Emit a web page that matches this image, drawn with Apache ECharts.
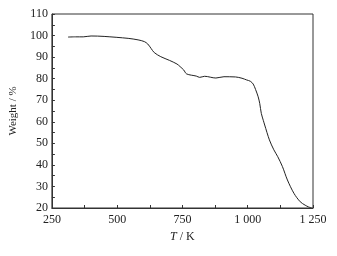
<!DOCTYPE html>
<html><head><meta charset="utf-8">
<script src="https://cdn.jsdelivr.net/npm/echarts@6/dist/echarts.min.js"></script>
<style>html,body{margin:0;padding:0;background:#fff}#c{width:337px;height:256px}</style>
</head><body><div id="c"></div>
<script>
const temperature = [312, 340, 370, 400, 450, 542, 580, 604, 617, 630, 642, 667, 700, 729, 741, 755, 766, 803, 816, 835, 878, 909, 953, 978, 996, 1010, 1021, 1030, 1040, 1046, 1052, 1060, 1065, 1083, 1100, 1115, 1133, 1152, 1177, 1201, 1220, 1233, 1245];
const weight = [99.3, 99.4, 99.4, 99.8, 99.6, 98.7, 98.0, 97.2, 96.1, 94.0, 92.1, 90.2, 88.5, 86.8, 85.6, 84.0, 82.2, 81.2, 80.6, 81.1, 80.3, 80.9, 80.8, 80.2, 79.4, 78.8, 77.5, 75.0, 71.6, 68.5, 63.9, 60.5, 58.5, 51.6, 47.0, 43.8, 39.2, 33.0, 26.8, 22.9, 21.3, 20.5, 20.0];
const xTicks = [250, 500, 750, 1000, 1250];
const yTicks = [20, 30, 40, 50, 60, 70, 80, 90, 100, 110];

const fmtX = v => v >= 1000 ? String(v).replace(/(\d)(\d{3})$/, '$1 $2') : String(v);
const chart = echarts.init(document.getElementById('c'));
const font = 'Liberation Serif';
chart.setOption({
  animation: false,
  backgroundColor: '#fff',
  grid: {left: 45, right: 24, top: 14, bottom: 48, show: true, borderColor: '#333', borderWidth: 1},
  xAxis: {
    type: 'value', min: xTicks[0], max: xTicks[xTicks.length - 1], interval: 250,
    name: '{i|T} / K', nameLocation: 'middle', nameGap: 22,
    nameTextStyle: {fontFamily: font, fontSize: 12, color: '#222', rich: {i: {fontFamily: font, fontStyle: 'italic', fontSize: 12, color: '#222'}}},
    axisLine: {lineStyle: {color: '#333'}},
    axisTick: {inside: true, length: 3, lineStyle: {color: '#333'}},
    minorTick: {show: true, splitNumber: 2, length: 3, lineStyle: {color: '#333'}},
    axisLabel: {fontFamily: font, fontSize: 12, color: '#222', margin: 6, formatter: fmtX},
    splitLine: {show: false}
  },
  yAxis: {
    type: 'value', min: yTicks[0], max: yTicks[yTicks.length - 1], interval: 10,
    name: 'Weight / %', nameLocation: 'middle', nameGap: 26,
    nameTextStyle: {fontFamily: font, fontSize: 11, color: '#222'},
    axisLine: {lineStyle: {color: '#333'}},
    axisTick: {inside: true, length: 3, lineStyle: {color: '#333'}},
    minorTick: {show: true, splitNumber: 2, length: 3, lineStyle: {color: '#333'}},
    axisLabel: {fontFamily: font, fontSize: 12, color: '#222', margin: 4},
    splitLine: {show: false}
  },
  series: [{
    type: 'line', showSymbol: false, smooth: 0.3,
    data: temperature.map((t, i) => [t, weight[i]]),
    lineStyle: {color: '#222', width: 1}
  }]
});
</script></body></html>
